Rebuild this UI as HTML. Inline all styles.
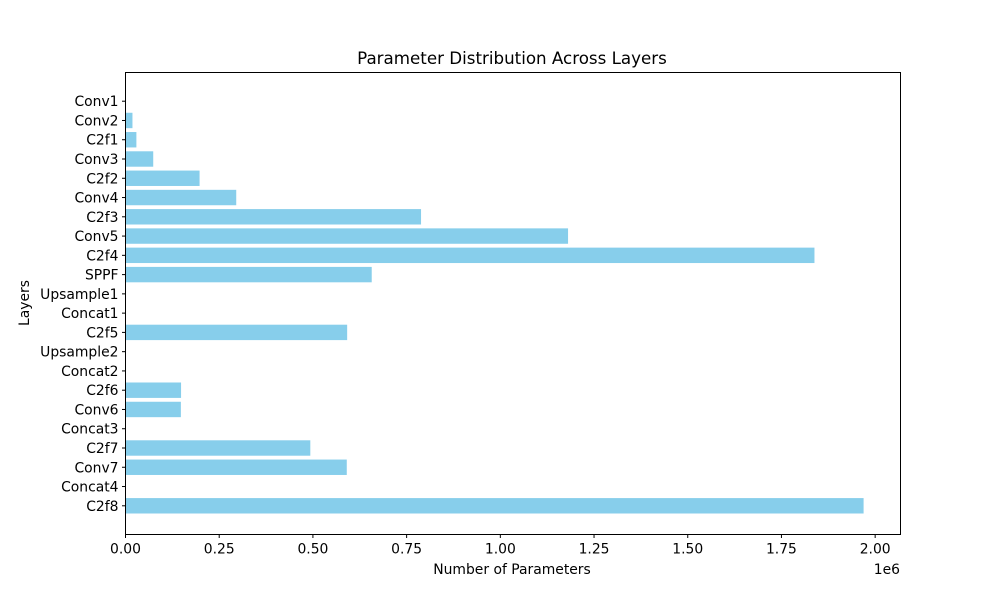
<!DOCTYPE html>
<html><head><meta charset="utf-8"><style>
body{margin:0;background:#fff}
svg text{font-family:"DejaVu Sans","Liberation Sans",sans-serif;fill:#000}
</style></head><body>
<svg id="chart" width="1000" height="600" viewBox="0 0 1000 600" xmlns="http://www.w3.org/2000/svg">
<rect width="1000" height="600" fill="#fff"/>
<text x="512" y="64" text-anchor="middle" font-size="16.7">Parameter Distribution Across Layers</text>
<text x="512" y="574" text-anchor="middle" font-size="13.9">Number of Parameters</text>
<text transform="translate(29,303) rotate(-90)" text-anchor="middle" font-size="13.9">Layers</text>
<text x="900" y="574" text-anchor="end" font-size="13.9">1e6</text>
<g id="bars"></g><g id="ticks"></g>
<rect x="125.5" y="72.5" width="775" height="462" fill="none" stroke="#000" stroke-width="1"/>
</svg>
<script>
const categories=["Conv1","Conv2","C2f1","Conv3","C2f2","Conv4","C2f3","Conv5","C2f4","SPPF","Upsample1","Concat1","C2f5","Upsample2","Concat2","C2f6","Conv6","Concat3","C2f7","Conv7","Concat4","C2f8"];
const values=[464,18560,29056,73984,197632,295424,788480,1180672,1838080,656896,0,0,591360,0,0,148224,147712,0,493056,590336,0,1969152];
const xTicks=[0,0.25e6,0.5e6,0.75e6,1.0e6,1.25e6,1.5e6,1.75e6,2.0e6];
const xTickLabels=["0.00","0.25","0.50","0.75","1.00","1.25","1.50","1.75","2.00"];
const L=125.5,R=900.5,T=72.5,B=534.5;
const maxV=Math.max(...values),xmax=maxV*1.05;
const x=v=>L+(v/xmax)*(R-L);
const n=categories.length,yLo=-0.4-0.05*(n-1+0.8),yHi=n-1+0.4+0.05*(n-1+0.8);
const y=i=>T+((i-yLo)/(yHi-yLo))*(B-T);
const NS="http://www.w3.org/2000/svg";
const bars=document.getElementById('bars'),ticks=document.getElementById('ticks');
const unit=(B-T)/(yHi-yLo);
categories.forEach((c,i)=>{
 const r=document.createElementNS(NS,'rect');
 r.setAttribute('x',L);r.setAttribute('y',y(i)-0.4*unit);
 r.setAttribute('width',Math.max(0,x(values[i])-L));r.setAttribute('height',0.8*unit);
 r.setAttribute('fill','#87ceeb');
 
 
 bars.appendChild(r);
 const t=document.createElementNS(NS,'line');
 t.setAttribute('x1',L-3.5);t.setAttribute('x2',L);t.setAttribute('y1',y(i));t.setAttribute('y2',y(i));t.setAttribute('stroke','#000');
 
 
 ticks.appendChild(t);
 const l=document.createElementNS(NS,'text');
 l.setAttribute('x',L-7);l.setAttribute('y',y(i)+5);l.setAttribute('text-anchor','end');l.setAttribute('font-size','13.9');
 l.textContent=c;
 
 
 ticks.appendChild(l);
});
xTicks.forEach((v,i)=>{
 const t=document.createElementNS(NS,'line');
 t.setAttribute('x1',x(v));t.setAttribute('x2',x(v));t.setAttribute('y1',B);t.setAttribute('y2',B+3.5);t.setAttribute('stroke','#000');
 
 
 ticks.appendChild(t);
 const l=document.createElementNS(NS,'text');
 l.setAttribute('x',x(v));l.setAttribute('y',B+19);l.setAttribute('text-anchor','middle');l.setAttribute('font-size','13.9');
 l.textContent=xTickLabels[i];
 
 
 ticks.appendChild(l);
});
</script>
</body></html>
